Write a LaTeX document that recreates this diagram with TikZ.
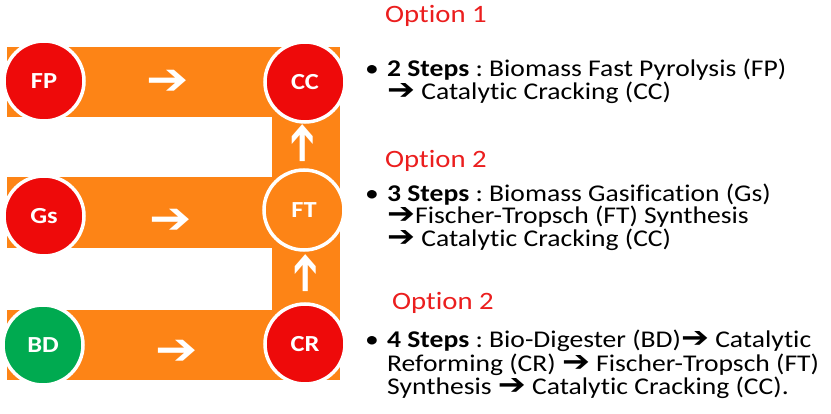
\documentclass[tikz,border=0pt]{standalone}
\usepackage{fontspec}
\setmainfont{Carlito}[FakeStretch=1.15,Ligatures=NoCommon]
\newfontfamily\symfont{DejaVu Sans}[FakeStretch=1.15]
\usetikzlibrary{positioning}
\frenchspacing
\definecolor{band}{RGB}{253,132,22}
\definecolor{stepred}{RGB}{238,10,10}
\definecolor{stepgreen}{RGB}{0,170,80}
\definecolor{optred}{RGB}{235,30,30}
\newcommand{\nextstep}{{\symfont\bfseries\fontsize{29}{23}\selectfont ➔}}
\tikzset{
  stage/.style={circle,minimum size=80pt,inner sep=0pt,draw=white,line width=3.5pt,
    text=white,font=\bfseries\fontsize{23}{23}\selectfont},
  flowmark/.style={text=white,inner sep=0pt,font=\symfont\bfseries\fontsize{44}{44}\selectfont},
  optlabel/.style={anchor=base west,inner sep=0pt,text=optred,font=\fontsize{25}{25}\selectfont},
  stepline/.style={anchor=base west,inner sep=0pt,font=\fontsize{24}{24}\selectfont}
}
\begin{document}
\begin{tikzpicture}[x=1pt,y=-1pt]
\useasboundingbox (0,0) rectangle (831,414);
% orange bands
\fill[band] (7,47) rectangle (340,117);
\fill[band] (7,177) rectangle (272,248);
\fill[band] (7,310) rectangle (340,380);
\fill[band] (272,47) rectangle (340,380);
% stages
\node[stage,fill=stepred] (FP) at (44,81) {FP};
\node[stage,fill=stepred] (CC) at (305,82) {CC};
\node[stage,fill=stepred] (Gs) at (44,216) {Gs};
\node[stage,fill=band] (FT) at (304,210) {FT};
\node[stage,fill=stepgreen] (BD) at (43,345) {BD};
\node[stage,fill=stepred] (CR) at (305,344) {CR};
% white arrows on the bands
\node[flowmark] (fpcc) at (168,82) {➔};
\node[flowmark] (gsft) at (171,221) {➔};
\node[flowmark] (bdcr) at (177,352) {➔};
\node[flowmark,rotate=90] (ftcc) at (304,143) {➔};
\node[flowmark,rotate=90] (crft) at (307,273) {➔};
% option 1
\node[optlabel] (opt1) at (385,23) {Option 1};
\node[stepline] (b1) at (365,77) {•};
\node[stepline] (l11) at (387,77) {\textbf{2 Steps} : Biomass Fast Pyrolysis (FP)};
\node[stepline] (l12) at (387,100) {\nextstep\ Catalytic Cracking (CC)};
% option 2
\node[optlabel] (opt2) at (385,168) {Option 2};
\node[stepline] (b2) at (365,202) {•};
\node[stepline] (l21) at (387,202) {\textbf{3 Steps} : Biomass Gasification (Gs)};
\node[stepline] (l22) at (387,224) {\nextstep Fischer-Tropsch (FT) Synthesis};
\node[stepline] (l23) at (387,247) {\nextstep\ Catalytic Cracking (CC)};
% option 3
\node[optlabel] (opt3) at (392,310) {Option 2};
\node[stepline] (b3) at (365,348) {•};
\node[stepline] (l31) at (387,348) {\textbf{4 Steps} : Bio-Digester (BD)\nextstep\ Catalytic};
\node[stepline] (l32) at (387,372) {Reforming (CR) \nextstep\ Fischer-Tropsch (FT)};
\node[stepline] (l33) at (387,395) {Synthesis \nextstep\ Catalytic Cracking (CC).};
\end{tikzpicture}
\end{document}
